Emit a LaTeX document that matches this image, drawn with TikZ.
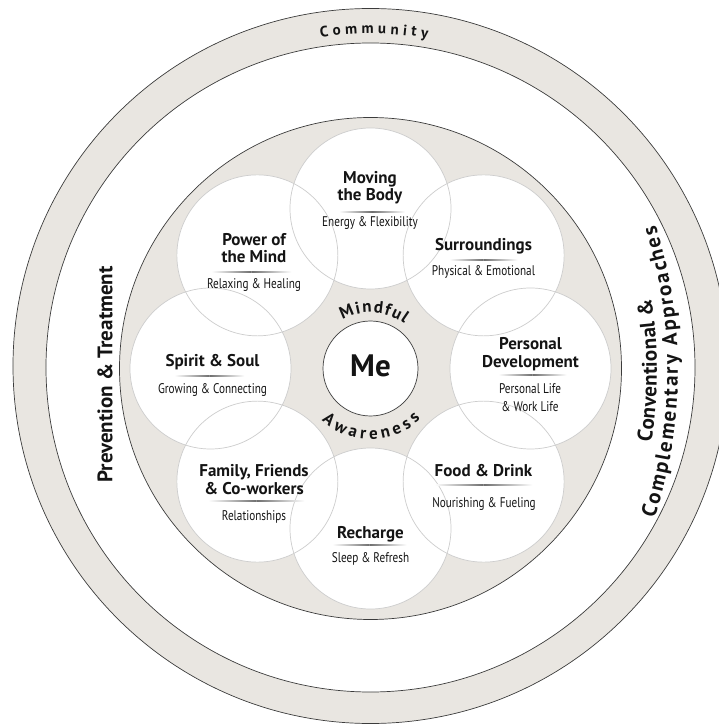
\documentclass[tikz,border=0pt]{standalone}
\usepackage{fontspec}
\setmainfont{PT Sans}
\newfontfamily\condfont{PT Sans}[FakeStretch=0.8]
\definecolor{ringgrey}{RGB}{233,230,225}
\definecolor{edgegrey}{RGB}{60,60,60}
\definecolor{circgrey}{RGB}{205,205,205}
\definecolor{rulegrey}{RGB}{110,110,110}
\definecolor{txt}{RGB}{20,20,20}
\newcommand\sidefont{\fontsize{21}{24}\selectfont\bfseries}
\newcommand\arcfont{\fontsize{17}{20}\selectfont\bfseries}
\newcommand\commfont{\fontsize{15}{18}\selectfont\bfseries}
\newcommand\rulebar[3]{%
  \shade[left color=white,right color=rulegrey] ({#1-#3},{#2-0.5}) rectangle ({#1},{#2+0.5});
  \shade[left color=rulegrey,right color=white] ({#1},{#2-0.5}) rectangle ({#1+#3},{#2+0.5});}
\newdimen\arcw
\newbox\arcbox
% measure letters (outside the picture): #1 font, #2 gap, #3 letters, #4 name
\newcommand\arcprep[4]{%
  \gdef\arctotal{0}%
  \foreach \ltr in {#3}{%
    \setbox\arcbox\hbox{#1\ltr}\arcw=\wd\arcbox\relax
    \pgfmathparse{\arctotal+\the\arcw+#2}\xdef\arctotal{\pgfmathresult}}%
  \pgfmathparse{\arctotal-#2}\xdef\arctotal{\pgfmathresult}%
  \gdef\arcpos{0}%
  \foreach \ltr [count=\n] in {#3}{%
    \setbox\arcbox\hbox{#1\ltr}\arcw=\wd\arcbox\relax
    \pgfmathparse{\arcpos+0.5*\the\arcw-0.5*\arctotal}%
    \expandafter\xdef\csname arcoff@#4@\n\endcsname{\pgfmathresult}%
    \pgfmathparse{\arcpos+\the\arcw+#2}\xdef\arcpos{\pgfmathresult}}%
}
% place letters: #1 font, #2 radius, #3 centre angle, #4 direction, #5 rotation offset, #6 letters, #7 name
\newcommand\arcplace[7]{%
  \foreach \ltr [count=\n] in {#6}{%
    \pgfmathsetmacro\arcang{#3+#4*\csname arcoff@#7@\n\endcsname/#2*57.29578}%
    \node[inner sep=0pt,anchor=base,rotate=\arcang+#5,font=#1,text=txt] (#7\n) at (\arcang:#2) {\ltr};}}
\begin{document}%
\arcprep{\arcfont}{1.5}{M,i,n,d,f,u,l}{mind}%
\arcprep{\arcfont}{3.9}{A,w,a,r,e,n,e,s,s}{aware}%
\arcprep{\commfont}{4.25}{C,o,m,m,u,n,i,t,y}{comm}%
\arcprep{\sidefont}{0.3}{C,o,n,v,e,n,t,i,o,n,a,l,\space,\&}{conv}%
\arcprep{\sidefont}{2.0}{C,o,m,p,l,e,m,e,n,t,a,r,y,\space,A,p,p,r,o,a,c,h,e,s}{compl}%
\begin{tikzpicture}[x=1pt,y=1pt,
  edge/.style={draw=edgegrey,line width=0.7pt},
  smallcirc/.style={draw=circgrey,line width=0.7pt},
  title/.style={font=\fontsize{17}{17}\selectfont\bfseries,text=txt,inner sep=0pt,anchor=base},
  sub/.style={font=\condfont\fontsize{14}{16}\selectfont,text=txt,inner sep=0pt,anchor=base},
  side/.style={font=\sidefont,text=txt,inner sep=0pt,anchor=base},
  mestyle/.style={font=\fontsize{31}{34}\selectfont\bfseries,text=txt,inner sep=0pt,anchor=base}]
\useasboundingbox (-370.5,-356.5) rectangle (348.5,368.5);
% outer ring
\fill[ringgrey,even odd rule] (0,2.5) circle[radius=357.5] (0,1) circle[radius=324.5];
\draw[edge] (0,2.5) circle[radius=357.5];
\draw[edge] (0,1) circle[radius=324.5];
% inner disc
\fill[ringgrey] (0,0) circle[radius=251];
\draw[edge] (0,0) circle[radius=251];
% eight circles
\foreach \a [count=\i] in {90,45,0,-45,-90,-135,180,135}
  \coordinate (c\i) at (\a:160);
\foreach \i in {1,...,8} \fill[white] (c\i) circle[radius=80.5];
\foreach \i in {1,...,8} \draw[smallcirc] (c\i) circle[radius=80.5];
% centre
\filldraw[fill=white,edge] (0,0) circle[radius=47.5];
\node[mestyle] (me) at (0,-8.5) {Me};
% arc texts
\arcplace{\arcfont}{56}{86.45}{-1}{-90}{M,i,n,d,f,u,l}{mind}
\arcplace{\arcfont}{71}{270.7}{1}{90}{A,w,a,r,e,n,e,s,s}{aware}
\arcplace{\commfont}{335}{89.4}{-1}{-90}{C,o,m,m,u,n,i,t,y}{comm}
% left side text
\node[side,rotate=90] (prev) at (-258,-6) {Prevention \& Treatment};
% right side texts
\begin{scope}[shift={(-172.5,-2)}]
\arcplace{\sidefont}{459}{0}{1}{90}{C,o,n,v,e,n,t,i,o,n,a,l,\space,\&}{conv}
\arcplace{\sidefont}{480}{-0.2}{1}{90}{C,o,m,p,l,e,m,e,n,t,a,r,y,\space,A,p,p,r,o,a,c,h,e,s}{compl}
\end{scope}
% Moving the Body
\node[title] (mov1) at (-0.5,184.5) {Moving};
\node[title] (mov2) at (-0.5,167.5) {the Body};
\rulebar{1.5}{156.5}{33}
\node[sub] (movs) at (-0.5,141.5) {Energy \& Flexibility};
% Power of the Mind
\node[title] (pow1) at (-116.5,122.5) {Power of};
\node[title] (pow2) at (-116.5,105.5) {the Mind};
\rulebar{-119}{96.5}{40}
\node[sub] (pows) at (-116.5,79.5) {Relaxing \& Healing};
% Surroundings
\node[title] (sur1) at (113,117.5) {Surroundings};
\rulebar{113}{108.5}{34}
\node[sub] (surs) at (113,93) {Physical \& Emotional};
% Personal Development
\node[title] (per1) at (160,18.5) {Personal};
\node[title] (per2) at (160,0.5) {Development};
\rulebar{162}{-6.5}{34}
\node[sub] (pers1) at (159.5,-24.5) {Personal Life};
\node[sub] (pers2) at (159.5,-42.5) {\& Work Life};
% Food & Drink
\node[title] (food1) at (113,-107.5) {Food \& Drink};
\rulebar{113}{-116.5}{49}
\node[sub] (foods) at (113.5,-138.5) {Nourishing \& Fueling};
% Recharge
\node[title] (rec1) at (0,-169.5) {Recharge};
\rulebar{-1}{-176.5}{37}
\node[sub] (recs) at (0,-193.5) {Sleep \& Refresh};
% Family
\node[title] (fam1) at (-116.5,-107.5) {Family, Friends};
\node[title] (fam2) at (-116.5,-125.5) {\& Co-workers};
\rulebar{-114}{-132.5}{48}
\node[sub] (fams) at (-116.5,-151.5) {Relationships};
% Spirit & Soul
\node[title] (spi1) at (-158,1.5) {Spirit \& Soul};
\rulebar{-161}{-7.5}{35}
\node[sub] (spis) at (-158,-24.5) {Growing \& Connecting};
\end{tikzpicture}%
\end{document}
